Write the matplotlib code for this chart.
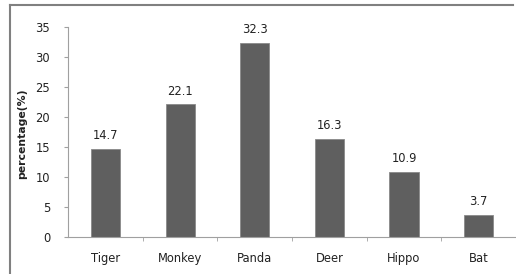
import matplotlib.pyplot as plt
from matplotlib.lines import Line2D

# chart data
animals = ['Tiger', 'Monkey', 'Panda', 'Deer', 'Hippo', 'Bat']
percentages = [14.7, 22.1, 32.3, 16.3, 10.9, 3.7]

plt.rcParams['font.family'] = ['DejaVu Sans']

fig = plt.figure(figsize=(5.16, 2.74), dpi=100)
ax = fig.add_axes([0.132, 0.135, 0.868, 0.766])

x = range(len(animals))
ax.bar(x, percentages, width=0.39, color='#5f5f5f', edgecolor='#8a8a8a', linewidth=0.6)

# value labels above the bars
for i, v in enumerate(percentages):
    ax.annotate(f'{v}', (i, v), xytext=(0, 5), textcoords='offset points',
                ha='center', va='bottom', fontsize=8.3, color='#222222')

ax.set_xlim(-0.5, len(animals) - 0.5)
ax.set_ylim(0, 35)
ax.set_yticks(range(0, 36, 5))
ax.set_xticks(list(x))
ax.set_xticklabels(animals)
ax.set_xticks([i + 0.5 for i in range(len(animals) - 1)], minor=True)
ax.tick_params(axis='x', which='major', length=0, pad=11, labelsize=8.3, labelcolor='#222222')
ax.tick_params(axis='x', which='minor', length=3, direction='out', color='#a0a0a0')
ax.tick_params(axis='y', length=3, direction='out', color='#a0a0a0', labelsize=8.3,
               labelcolor='#222222', pad=10)

ax.set_ylabel('percentage(%)', fontsize=7.8, fontweight='bold', color='#222222')
ax.yaxis.set_label_coords(-0.092, 0.49)

for side in ['top', 'right']:
    ax.spines[side].set_visible(False)
for side in ['left', 'bottom']:
    ax.spines[side].set_color('#a0a0a0')
    ax.spines[side].set_linewidth(0.8)

# frame around the chart (top and left edges)
fig.add_artist(Line2D([0.019, 0.995], [0.982, 0.982], color='#808080', linewidth=1.5))
fig.add_artist(Line2D([0.019, 0.019], [0.0, 0.982], color='#808080', linewidth=1.5))

plt.savefig('out.png', dpi=100)
